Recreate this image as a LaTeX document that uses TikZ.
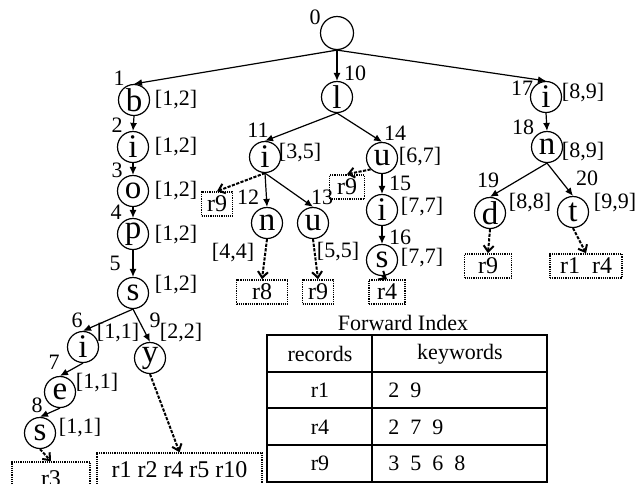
\documentclass[tikz,border=0pt]{standalone}
\usepackage{fontspec}
\setmainfont{Liberation Serif}
\usetikzlibrary{arrows.meta}

\begin{document}
\begin{tikzpicture}[x=0.5pt, y=-0.5pt,
    trie/.style={draw, circle, line width=0.6pt, minimum size=15.5pt, inner sep=0pt, font=\fontsize{16.5}{16.5}\selectfont},
    rec/.style={draw, dash pattern=on 0.6pt off 0.5pt, line width=0.8pt, minimum height=12pt, inner sep=1.5pt, font=\fontsize{12}{12}\selectfont},
    lbl/.style={inner sep=0pt, font=\fontsize{11}{11}\selectfont},
    edge/.style={-{Latex[length=4pt,width=3.5pt]}, line width=0.6pt},
    ptr/.style={-{Straight Barb[length=3pt,width=5pt]}, dash pattern=on 1.6pt off 0.7pt, line width=1pt}]
        \useasboundingbox (0,0) rectangle (640,483);

        % Trie nodes
        \node[trie, minimum size=16.5pt] (t0) at (337,33) {};
        \node[trie] (b1) at (134,100) {b};
        \node[trie] (i2) at (133,147) {i};
        \node[trie] (o3) at (133,191) {o};
        \node[trie] (p4) at (133,234) {p};
        \node[trie] (s5) at (133,293) {s};
        \node[trie] (i6) at (83,347) {i};
        \node[trie] (e7) at (60,392) {e};
        \node[trie] (s8) at (40,433) {s};
        \node[trie] (y9) at (150,358) {y};
        \node[trie] (l10) at (337,97) {l};
        \node[trie] (i11) at (265,157) {i};
        \node[trie] (n12) at (267,223) {n};
        \node[trie] (u13) at (313,223) {u};
        \node[trie] (u14) at (382,158) {u};
        \node[trie] (i15) at (382,210) {i};
        \node[trie] (s16) at (382,260) {s};
        \node[trie] (i17) at (546,97) {i};
        \node[trie] (n18) at (547,147) {n};
        \node[trie] (d19) at (490,213) {d};
        \node[trie] (t20) at (573,212) {t};

        % Node numbers
        \node[lbl] (c0) at (315,17) {0};
        \node[lbl] (c1) at (119,78) {1};
        \node[lbl] (c2) at (117,125) {2};
        \node[lbl] (c3) at (117,170) {3};
        \node[lbl] (c4) at (116,212) {4};
        \node[lbl] (c5) at (115,263) {5};
        \node[lbl] (c6) at (77,320) {6};
        \node[lbl] (c7) at (54,362) {7};
        \node[lbl] (c8) at (37,405) {8};
        \node[lbl] (c9) at (155,320) {9};
        \node[lbl] (c10) at (355,73) {10};
        \node[lbl] (c11) at (258,130) {11};
        \node[lbl] (c12) at (248,197) {12};
        \node[lbl] (c13) at (322,197) {13};
        \node[lbl] (c14) at (395,133) {14};
        \node[lbl] (c15) at (400,183) {15};
        \node[lbl] (c16) at (400,237) {16};
        \node[lbl] (c17) at (522,88) {17};
        \node[lbl] (c18) at (523,127) {18};
        \node[lbl] (c19) at (488,180) {19};
        \node[lbl] (c20) at (587,178) {20};

        % Keyword ranges
        \node[lbl] (k1) at (176,100) {[1,2]};
        \node[lbl] (k2) at (176,147) {[1,2]};
        \node[lbl] (k3) at (176,191) {[1,2]};
        \node[lbl] (k4) at (176,235) {[1,2]};
        \node[lbl] (k5) at (176,285) {[1,2]};
        \node[lbl] (k6) at (118,333) {[1,1]};
        \node[lbl] (k7) at (97,383) {[1,1]};
        \node[lbl] (k8) at (80,428) {[1,1]};
        \node[lbl] (k9) at (181,333) {[2,2]};
        \node[lbl] (k11) at (300,153) {[3,5]};
        \node[lbl] (k12) at (233,253) {[4,4]};
        \node[lbl] (k13) at (338,252) {[5,5]};
        \node[lbl] (k14) at (420,157) {[6,7]};
        \node[lbl] (k15) at (422,207) {[7,7]};
        \node[lbl] (k16) at (422,258) {[7,7]};
        \node[lbl] (k17) at (583,93) {[8,9]};
        \node[lbl] (k18) at (583,152) {[8,9]};
        \node[lbl] (k19) at (530,203) {[8,8]};
        \node[lbl] (k20) at (615,203) {[9,9]};

        % Record lists
        \node[rec, minimum width=15.5pt] (r9a) at (217,204) {r9};
        \node[rec, minimum width=17.5pt] (r9b) at (347,187) {r9};
        \node[rec, minimum width=25.5pt] (r8) at (262,292) {r8};
        \node[rec, minimum width=15.5pt] (r9c) at (318,292) {r9};
        \node[rec, minimum width=18pt] (r4) at (387,292) {r4};
        \node[rec, minimum width=23.5pt] (r9d) at (488,266) {r9};
        \node[rec, minimum width=36pt] (r14) at (586,266) {r1~~r4};
        \node[rec, minimum width=39pt, minimum height=17pt] (r3) at (51,479) {r3};
        \node[rec, minimum width=82.5pt, minimum height=17pt] (rall) at (179.5,470) {r1 r2 r4 r5 r10};

        % Trie edges
        \draw[edge] (t0.south) -- (b1.north);
        \draw[edge] (t0.south) -- (l10.north);
        \draw[edge] (t0.south) -- (i17.north);
        \draw[edge] (b1.south) -- (i2.north);
        \draw[edge] (i2.south) -- (o3.north);
        \draw[edge] (o3.south) -- (p4.north);
        \draw[edge] (p4.south) -- (s5.north);
        \draw[edge] (s5.south) -- (i6.north);
        \draw[edge] (s5.south) -- (y9.north);
        \draw[edge] (i6.south) -- (e7.north);
        \draw[edge] (e7.south) -- (s8.north);
        \draw[edge] (l10.south) -- (i11.north);
        \draw[edge] (l10.south) -- (u14.north);
        \draw[edge] (i11.south) -- (n12.north);
        \draw[edge] (i11.south) -- (u13.north);
        \draw[edge] (u14.south) -- (i15.north);
        \draw[edge] (i15.south) -- (s16.north);
        \draw[edge] (i17.south) -- (n18.north);
        \draw[edge] (n18.south) -- (d19.north);
        \draw[edge] (n18.south) -- (t20.north);

        % Pointers to records
        \draw[ptr] (s8.south) -- (r3.north);
        \draw[ptr] (y9.south) -- (rall.north);
        \draw[ptr] (i11.south) -- (r9a.north);
        \draw[ptr] (u14.south west) -- (r9b.north);
        \draw[ptr] (n12.south) -- (r8.north);
        \draw[ptr] (u13.south) -- (r9c.north);
        \draw[ptr] (s16.south) -- (r4.north);
        \draw[ptr] (d19.south) -- (r9d.north);
        \draw[ptr] (t20.south) -- (r14.north);

        % Forward index
        \node[lbl] (fwd) at (403,323) {Forward Index};
        \draw[line width=0.6pt] (267,335) rectangle (547,482);
        \draw[line width=0.6pt] (267,372) -- (547,372);
        \draw[line width=0.6pt] (267,408) -- (547,408);
        \draw[line width=0.6pt] (267,445) -- (547,445);
        \draw[line width=0.6pt] (372,335) -- (372,482);
        \node[lbl] (hrec) at (320,354) {records};
        \node[lbl] (hkey) at (460,354) {keywords};
        \node[lbl] (fr1) at (320,390) {r1};
        \node[lbl, anchor=west] (fk1) at (388,390) {2~~9};
        \node[lbl] (fr4) at (320,427) {r4};
        \node[lbl, anchor=west] (fk4) at (388,427) {2~~7~~9};
        \node[lbl] (fr9) at (320,463) {r9};
        \node[lbl, anchor=west] (fk9) at (388,463) {3~~5~~6~~8};
      \end{tikzpicture}
\end{document}
